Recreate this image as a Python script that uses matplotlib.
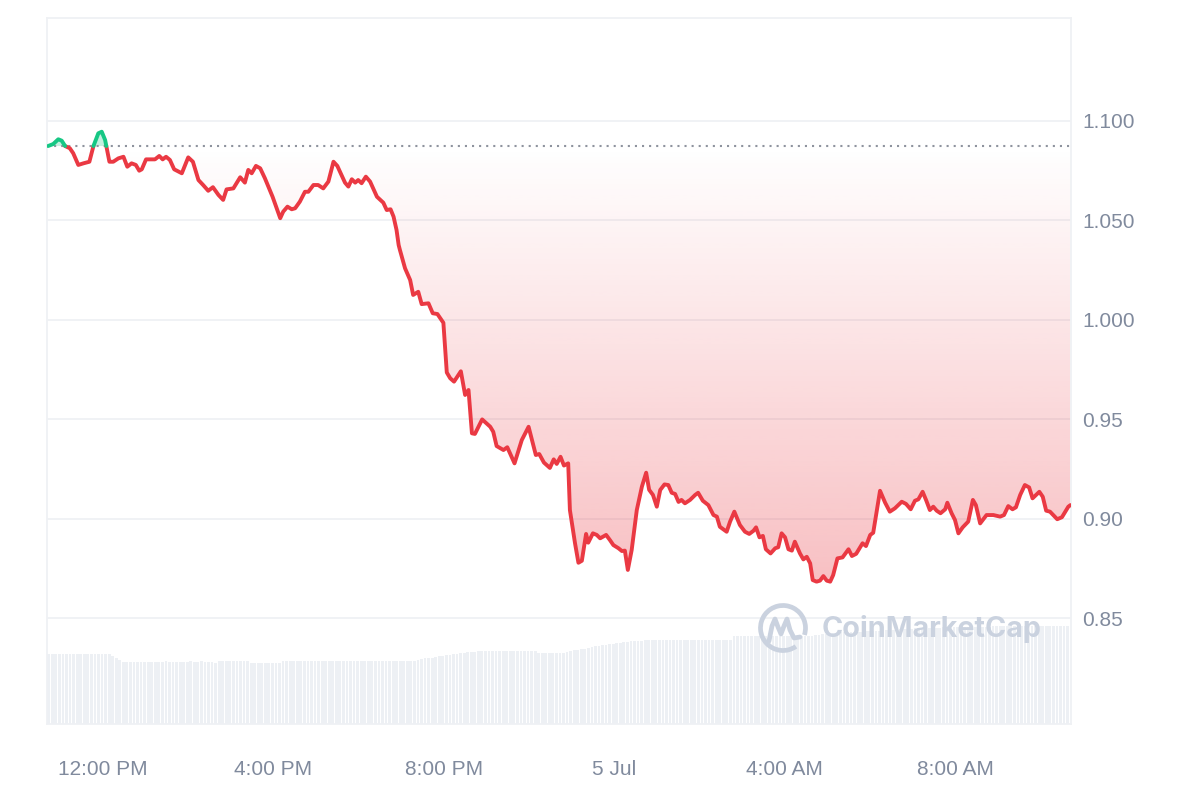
import numpy as np
import matplotlib
matplotlib.use("Agg")
import matplotlib.pyplot as plt
from matplotlib.path import Path
from matplotlib.patches import PathPatch, Arc
from matplotlib.colors import to_rgb

plt.rcParams['font.family'] = ['Liberation Sans', 'DejaVu Sans']

# hours after 12:00 PM (4 Jul)
hours = [-1.29, -1.17, -1.05, -0.97, -0.89, -0.78, -0.70, -0.58, -0.46, -0.32,
         -0.23, -0.11, -0.03, 0.05, 0.15, 0.24, 0.36, 0.48, 0.57, 0.67,
         0.77, 0.85, 0.91, 1.01, 1.22, 1.32, 1.40, 1.48, 1.57, 1.67,
         1.85, 2.00, 2.11, 2.24, 2.35, 2.47, 2.58, 2.71, 2.82, 2.90,
         3.06, 3.22, 3.33, 3.41, 3.49, 3.59, 3.69, 3.80, 3.98, 4.16,
         4.23, 4.33, 4.43, 4.51, 4.62, 4.74, 4.82, 4.94, 5.05, 5.17,
         5.29, 5.41, 5.50, 5.68, 5.76, 5.84, 5.92, 5.99, 6.07, 6.17,
         6.27, 6.43, 6.58, 6.66, 6.75, 6.82, 6.89, 6.94, 6.97, 7.09,
         7.21, 7.28, 7.40, 7.48, 7.64, 7.74, 7.85, 7.99, 8.07, 8.15,
         8.24, 8.40, 8.50, 8.58, 8.66, 8.73, 8.90, 9.09, 9.16, 9.24,
         9.40, 9.49, 9.66, 9.83, 9.99, 10.16, 10.24, 10.35, 10.49, 10.58,
         10.65, 10.74, 10.82, 10.92, 10.96, 11.08, 11.16, 11.24, 11.34, 11.39,
         11.50, 11.59, 11.67, 11.81, 11.90, 11.98, 12.10, 12.18, 12.25, 12.32,
         12.41, 12.53, 12.65, 12.75, 12.82, 12.91, 13.00, 13.08, 13.18, 13.27,
         13.35, 13.43, 13.51, 13.58, 13.66, 13.78, 13.90, 13.97, 14.08, 14.21,
         14.33, 14.41, 14.48, 14.64, 14.72, 14.82, 14.95, 15.07, 15.17, 15.27,
         15.33, 15.41, 15.49, 15.56, 15.67, 15.78, 15.85, 15.93, 16.01, 16.09,
         16.17, 16.24, 16.36, 16.44, 16.52, 16.60, 16.66, 16.75, 16.83, 16.91,
         16.99, 17.07, 17.14, 17.24, 17.36, 17.50, 17.58, 17.68, 17.83, 17.91,
         18.01, 18.08, 18.24, 18.36, 18.47, 18.59, 18.75, 18.85, 18.96, 19.06,
         19.14, 19.24, 19.32, 19.41, 19.49, 19.57, 19.66, 19.77, 19.82, 19.92,
         20.00, 20.08, 20.18, 20.31, 20.42, 20.49, 20.59, 20.74, 20.90, 21.06,
         21.15, 21.25, 21.35, 21.43, 21.53, 21.64, 21.74, 21.82, 21.98, 22.06,
         22.14, 22.23, 22.40, 22.51, 22.66, 22.71]

price = [1.0874, 1.0884, 1.0908, 1.0901, 1.0874, 1.0863, 1.0838, 1.0779, 1.0787, 1.0795,
         1.0871, 1.0938, 1.0946, 1.0904, 1.0795, 1.0795, 1.0812, 1.0820, 1.0770, 1.0787,
         1.0779, 1.0750, 1.0757, 1.0807, 1.0807, 1.0824, 1.0807, 1.0820, 1.0804, 1.0757,
         1.0737, 1.0817, 1.0795, 1.0703, 1.0678, 1.0649, 1.0667, 1.0628, 1.0603, 1.0656,
         1.0661, 1.0717, 1.0690, 1.0754, 1.0737, 1.0774, 1.0762, 1.0712, 1.0619, 1.0511,
         1.0544, 1.0569, 1.0556, 1.0561, 1.0594, 1.0644, 1.0644, 1.0678, 1.0678, 1.0661,
         1.0695, 1.0795, 1.0774, 1.0690, 1.0670, 1.0707, 1.0690, 1.0703, 1.0687, 1.0720,
         1.0695, 1.0619, 1.0589, 1.0552, 1.0556, 1.0519, 1.0452, 1.0376, 1.0351, 1.0259,
         1.0200, 1.0125, 1.0141, 1.0079, 1.0083, 1.0033, 1.0029, 0.9985, 0.9735, 0.9706,
         0.9689, 0.9741, 0.9622, 0.9647, 0.9429, 0.9426, 0.9499, 0.9462, 0.9437, 0.9365,
         0.9345, 0.9359, 0.9278, 0.9395, 0.9462, 0.9320, 0.9325, 0.9282, 0.9255, 0.9298,
         0.9275, 0.9311, 0.9267, 0.9278, 0.9043, 0.8876, 0.8778, 0.8788, 0.8923, 0.8879,
         0.8926, 0.8918, 0.8901, 0.8918, 0.8892, 0.8867, 0.8851, 0.8837, 0.8839, 0.8742,
         0.8842, 0.9043, 0.9161, 0.9231, 0.9145, 0.9119, 0.9060, 0.9144, 0.9172, 0.9169,
         0.9130, 0.9124, 0.9084, 0.9094, 0.9077, 0.9094, 0.9119, 0.9130, 0.9090, 0.9068,
         0.9018, 0.9010, 0.8959, 0.8934, 0.8985, 0.9035, 0.8968, 0.8934, 0.8923, 0.8939,
         0.8956, 0.8906, 0.8913, 0.8846, 0.8825, 0.8851, 0.8856, 0.8926, 0.8906, 0.8846,
         0.8839, 0.8884, 0.8825, 0.8795, 0.8808, 0.8775, 0.8691, 0.8683, 0.8688, 0.8711,
         0.8688, 0.8683, 0.8716, 0.8800, 0.8805, 0.8846, 0.8812, 0.8823, 0.8876, 0.8862,
         0.8918, 0.8929, 0.9140, 0.9080, 0.9035, 0.9052, 0.9085, 0.9074, 0.9047, 0.9090,
         0.9097, 0.9135, 0.9094, 0.9043, 0.9060, 0.9040, 0.9027, 0.9047, 0.9080, 0.9027,
         0.8993, 0.8926, 0.8956, 0.8985, 0.9094, 0.9068, 0.8976, 0.9018, 0.9018, 0.9010,
         0.9018, 0.9063, 0.9047, 0.9057, 0.9119, 0.9169, 0.9157, 0.9102, 0.9135, 0.9110,
         0.9040, 0.9035, 0.8997, 0.9007, 0.9060, 0.9068]

open_price = 1.0874

# volume, one row per hour, 5-minute bars (arbitrary units)
volume = [
    7.0, 7.0, 7.0, 7.0, 7.0, 7.0, 7.0, 7.0, 7.0, 7.0, 7.0, 7.0,
    7.0, 7.0, 7.0, 7.0, 7.0, 7.0, 6.8, 6.6, 6.4, 6.2, 6.2, 6.2,
    6.2, 6.2, 6.2, 6.2, 6.2, 6.2, 6.2, 6.2, 6.2, 6.3, 6.2, 6.2,
    6.2, 6.2, 6.2, 6.2, 6.3, 6.2, 6.2, 6.3, 6.2, 6.2, 6.2, 6.1,
    6.3, 6.3, 6.3, 6.3, 6.3, 6.3, 6.3, 6.3, 6.3, 6.1, 6.1, 6.1,
    6.1, 6.1, 6.1, 6.1, 6.1, 6.1, 6.3, 6.3, 6.3, 6.3, 6.3, 6.3,
    6.3, 6.3, 6.3, 6.3, 6.3, 6.3, 6.3, 6.3, 6.3, 6.3, 6.3, 6.3,
    6.3, 6.3, 6.3, 6.3, 6.3, 6.3, 6.3, 6.3, 6.3, 6.3, 6.3, 6.3,
    6.3, 6.3, 6.3, 6.3, 6.3, 6.3, 6.3, 6.3, 6.4, 6.5, 6.6, 6.6,
    6.6, 6.7, 6.8, 6.8, 6.9, 6.9, 7.0, 7.0, 7.1, 7.1, 7.2, 7.2,
    7.2, 7.3, 7.3, 7.3, 7.3, 7.3, 7.3, 7.3, 7.3, 7.3, 7.3, 7.3,
    7.3, 7.3, 7.3, 7.3, 7.3, 7.3, 7.1, 7.1, 7.1, 7.1, 7.1, 7.1,
    7.1, 7.1, 7.2, 7.3, 7.4, 7.4, 7.5, 7.5, 7.6, 7.7, 7.8, 7.8,
    7.9, 7.9, 8.0, 8.0, 8.1, 8.1, 8.2, 8.2, 8.3, 8.3, 8.3, 8.3,
    8.4, 8.4, 8.4, 8.4, 8.4, 8.4, 8.4, 8.4, 8.4, 8.4, 8.4, 8.4,
    8.4, 8.4, 8.4, 8.4, 8.4, 8.4, 8.4, 8.4, 8.4, 8.4, 8.4, 8.4,
    8.4, 8.8, 8.8, 8.8, 8.8, 8.8, 8.8, 8.8, 8.8, 8.8, 8.8, 8.8,
    8.8, 8.8, 8.8, 8.8, 8.8, 8.8, 8.8, 8.8, 8.8, 8.8, 8.8, 8.8,
    8.9, 8.9, 9.0, 9.0, 9.0, 9.1, 9.1, 9.2, 9.2, 9.2, 9.2, 9.2,
    9.2, 9.2, 9.3, 9.3, 9.3, 9.3, 9.3, 9.4, 9.4, 9.4, 9.4, 9.4,
    9.5, 9.5, 9.5, 9.5, 9.6, 9.6, 9.6, 9.6, 9.6, 9.6, 9.6, 9.6,
    9.7, 9.7, 9.7, 9.7, 9.7, 9.7, 9.7, 9.7, 9.7, 9.7, 9.7, 9.7,
    9.7, 9.7, 9.8, 9.8, 9.8, 9.8, 9.8, 9.8, 9.8, 9.8, 9.8, 9.8,
    9.8, 9.8, 9.8, 9.8, 9.8, 9.8, 9.8, 9.8, 9.8, 9.8, 9.8, 9.8,
]

tick_hours = [0, 4, 8, 12, 16, 20]
tick_labels = ['12:00 PM', '4:00 PM', '8:00 PM', '5 Jul', '4:00 AM', '8:00 AM']
price_ticks = [0.85, 0.90, 0.95, 1.00, 1.05, 1.10]
price_labels = ['0.85', '0.90', '0.95', '1.000', '1.050', '1.100']

RED = '#ea3943'
GREEN = '#16c784'
GREY = '#808a9d'
LIGHT = '#eff1f4'

t_start, t_end = -1.315, 22.723

t = np.array(hours)
p = np.array(price)

# add the points where the line crosses the open price, so colours switch cleanly
tt, pp = [t[0]], [p[0]]
for i in range(1, len(t)):
    d0, d1 = p[i-1] - open_price, p[i] - open_price
    if d0 * d1 < 0:
        f = d0 / (d0 - d1)
        tt.append(t[i-1] + f * (t[i] - t[i-1]))
        pp.append(open_price)
    tt.append(t[i])
    pp.append(p[i])
tt = np.array(tt)
pp = np.array(pp)

fig = plt.figure(figsize=(12, 8), dpi=100)
rect = [47/1200, 76/800, 1024/1200, 706/800]

# volume bars underneath
axv = fig.add_axes(rect)
vol = np.array(volume)
centers = t_start + (np.arange(len(vol)) + 0.5) / 12
axv.bar(centers, vol, width=0.78/12, color='#edf0f4', linewidth=0)
axv.set_xlim(t_start, t_end)
axv.set_ylim(0, 70.6)
axv.set_axis_off()

ax = fig.add_axes(rect)
ax.patch.set_alpha(0)

# red gradient fill below the open price
poly = ax.fill_between(tt, pp, open_price, where=pp <= open_price, interpolate=True,
                       facecolor='none', edgecolor='none')
clip = PathPatch(Path.make_compound_path(*poly.get_paths()), transform=ax.transData,
                 facecolor='none', edgecolor='none')
ax.add_patch(clip)
grad = np.zeros((256, 1, 4))
grad[:, 0, :3] = to_rgb(RED)
grad[:, 0, 3] = np.linspace(0.32, 0.0, 256)
im = ax.imshow(grad, extent=[t_start, t_end, p.min(), open_price], origin='lower',
               aspect='auto', zorder=1, interpolation='bilinear')
im.set_clip_path(clip)

ax.fill_between(tt, pp, open_price, where=pp >= open_price, interpolate=True,
                color=GREEN, alpha=0.25, linewidth=0, zorder=1)

ax.axhline(open_price, color='#8e939e', lw=1.5, linestyle=(0, (1.0, 2.4)), zorder=2)

up = np.where(pp >= open_price, pp, np.nan)
down = np.where(pp <= open_price, pp, np.nan)
ax.plot(tt, down, color=RED, lw=2.8, solid_joinstyle='round', solid_capstyle='round', zorder=3)
ax.plot(tt, up, color=GREEN, lw=2.8, solid_joinstyle='round', solid_capstyle='round', zorder=3)

ax.set_xlim(t_start, t_end)
ax.set_ylim(0.7967, 1.1518)

ax.set_yticks(price_ticks)
ax.set_yticklabels(price_labels)
ax.yaxis.tick_right()
ax.set_xticks(tick_hours)
ax.set_xticklabels(tick_labels)
ax.tick_params(axis='y', length=0, pad=8, labelsize=15, labelcolor=GREY)
ax.tick_params(axis='x', length=0, pad=26, labelsize=15, labelcolor=GREY)
ax.yaxis.grid(True, color=LIGHT, lw=1.3)
ax.set_axisbelow(True)
for s in ax.spines.values():
    s.set_color(LIGHT)
    s.set_linewidth(1.3)

# watermark
ov = fig.add_axes([0, 0, 1, 1])
ov.set_xlim(0, 1200)
ov.set_ylim(800, 0)
ov.set_axis_off()
ov.patch.set_alpha(0)
WM = '#cad2df'
ov.add_patch(Arc((783, 628), 45, 45, theta1=55, theta2=378, color=WM, lw=3.4))
ov.plot([769, 772, 775, 778, 781, 784, 787, 790, 794, 800],
        [641, 626, 619, 627, 634, 626, 619, 630, 638, 637],
        color=WM, lw=3.4, solid_joinstyle='round', solid_capstyle='round')
ov.text(822, 629, 'CoinMarketCap', fontsize=20.7, fontweight='bold', color=WM,
        va='center', ha='left', family=['Inter', 'DejaVu Sans'])

fig.savefig('out.png', dpi=100)
